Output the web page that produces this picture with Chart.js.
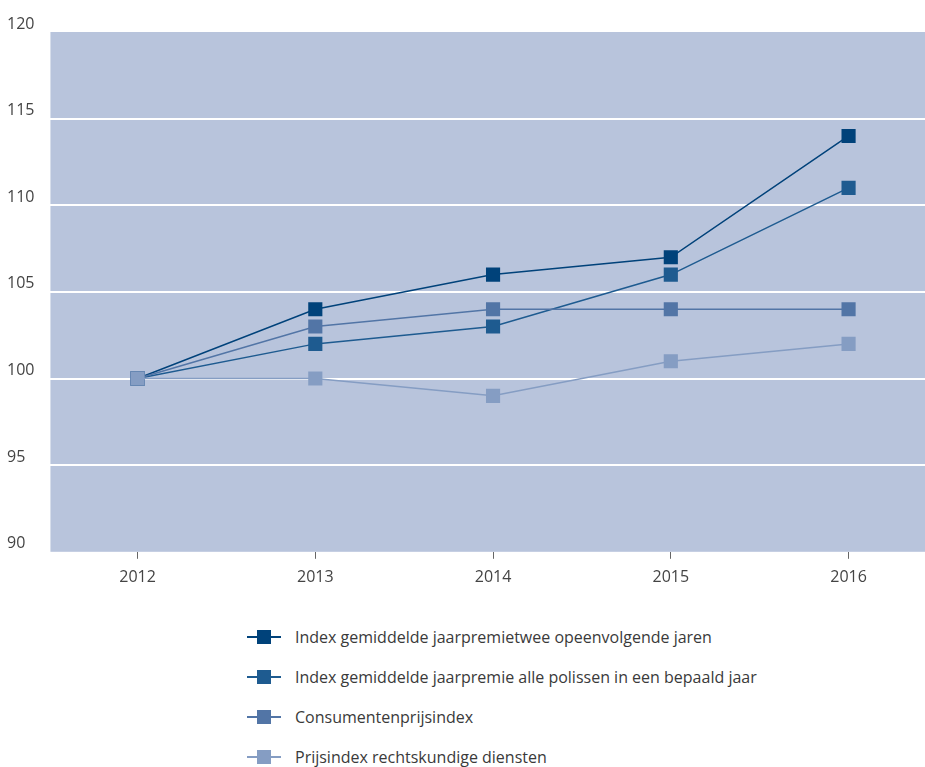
<!DOCTYPE html>
<html>
<head>
<meta charset="utf-8">
<script src="https://cdn.jsdelivr.net/npm/chart.js@4"></script>
<style>
  body { margin: 0; background: #fff; font-family: "Open Sans", sans-serif; }
  #wrap { position: relative; width: 925px; height: 596px; }
  #legend { position: absolute; left: 247px; top: 617px; }
  .item { display: flex; align-items: center; height: 40px; font-size: 16px; color: #3a3a3a; }
  .icon { position: relative; width: 34px; height: 14px; margin-right: 14px; }
  .icon .ln { position: absolute; left: 0; top: 6px; width: 34px; height: 2px; }
  .icon .sq { position: absolute; left: 10px; top: 0; width: 14px; height: 14px; }
</style>
</head>
<body>
<div id="wrap"><canvas id="grafiek" width="925" height="596"></canvas></div>
<div id="legend"></div>
<script>
const jaren = [2012, 2013, 2014, 2015, 2016];
const premieTweeJaren = [100, 104, 106, 107, 114];
const premieAllePolissen = [100, 102, 103, 106, 111];
const consumentenprijsindex = [100, 103, 104, 104, 104];
const prijsindexDiensten = [100, 100, 99, 101, 102];
const yTicks = [90, 95, 100, 105, 110, 115, 120];

const reeksen = [
  { label: 'Index gemiddelde jaarpremietwee opeenvolgende jaren', data: premieTweeJaren, kleur: '#00427a', order: 3 },
  { label: 'Index gemiddelde jaarpremie alle polissen in een bepaald jaar', data: premieAllePolissen, kleur: '#1e5b90', order: 2 },
  { label: 'Consumentenprijsindex', data: consumentenprijsindex, kleur: '#5275a6', order: 1 },
  { label: 'Prijsindex rechtskundige diensten', data: prijsindexDiensten, kleur: '#859dc3', order: 0 }
];

const achtergrond = {
  id: 'achtergrond',
  beforeDraw(chart) {
    const { ctx, chartArea: a } = chart;
    ctx.save();
    ctx.fillStyle = '#b8c4dc';
    ctx.fillRect(a.left, a.top, a.right - a.left, a.bottom - a.top);
    ctx.restore();
  }
};

const ctx = document.getElementById('grafiek').getContext('2d');
new Chart(ctx, {
  type: 'line',
  data: {
    datasets: reeksen.map(r => ({
      label: r.label,
      data: r.data.map((v, i) => ({ x: jaren[i], y: v })),
      borderColor: r.kleur,
      backgroundColor: r.kleur,
      borderWidth: 1.5,
      pointStyle: 'rect',
      pointRadius: 10,
      pointHoverRadius: 10,
      pointBorderWidth: 0,
      tension: 0,
      order: r.order
    }))
  },
  options: {
    responsive: false,
    animation: false,
    layout: { autoPadding: false, padding: { top: 32, left: 7, right: 0, bottom: 0 } },
    plugins: { legend: { display: false }, tooltip: { enabled: false } },
    scales: {
      x: {
        type: 'linear',
        min: 2011.51,
        max: 2016.43,
        afterBuildTicks: s => { s.ticks = jaren.map(v => ({ value: v })); },
        afterFit: s => { s.paddingRight = 0; s.paddingLeft = 0; },
        ticks: { callback: v => String(v), autoSkip: false, maxRotation: 0, color: '#444', font: { family: 'Open Sans', size: 16 }, padding: 9 },
        grid: { drawOnChartArea: false, drawTicks: true, tickLength: 7, tickColor: '#666', lineWidth: 1 },
        border: { display: false }
      },
      y: {
        min: 90,
        max: 120,
        afterBuildTicks: s => { s.ticks = yTicks.map(v => ({ value: v })); },
        ticks: { autoSkip: false, color: '#444', font: { family: 'Open Sans', size: 16 }, crossAlign: 'far', labelOffset: -8, padding: 8 },
        grid: {
          color: c => (c.tick && c.tick.value > 90 && c.tick.value < 120) ? '#ffffff' : 'rgba(0,0,0,0)',
          lineWidth: 2,
          drawTicks: false
        },
        border: { display: false }
      }
    }
  },
  plugins: [achtergrond]
});

const legend = document.getElementById('legend');
reeksen.forEach(r => {
  const item = document.createElement('div');
  item.className = 'item';
  item.innerHTML = '<span class="icon"><span class="ln" style="background:' + r.kleur + '"></span><span class="sq" style="background:' + r.kleur + '"></span></span><span>' + r.label + '</span>';
  legend.appendChild(item);
});
</script>
</body>
</html>
